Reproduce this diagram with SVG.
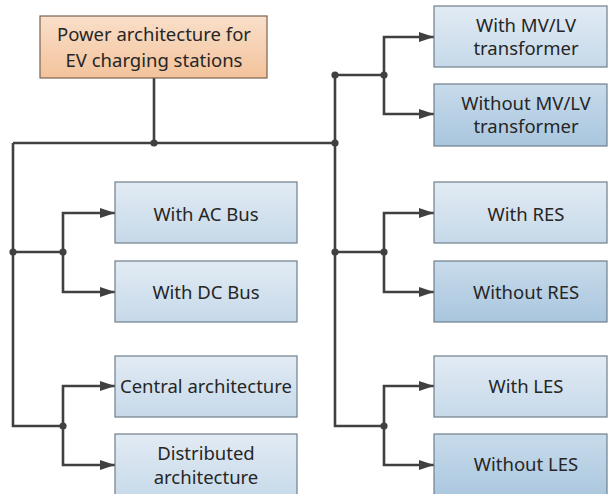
<svg xmlns="http://www.w3.org/2000/svg" width="608" height="494" viewBox="0 0 608 494">
<defs>
<linearGradient id="gOrange" x1="0" y1="0" x2="0" y2="1">
<stop offset="0" stop-color="#f9dfca"/>
<stop offset="1" stop-color="#f3c39b"/>
</linearGradient>
<linearGradient id="gLight" x1="0" y1="0" x2="0" y2="1">
<stop offset="0" stop-color="#e2ebf4"/>
<stop offset="1" stop-color="#c6d9e9"/>
</linearGradient>
<linearGradient id="gDark" x1="0" y1="0" x2="0" y2="1">
<stop offset="0" stop-color="#c8dbeb"/>
<stop offset="1" stop-color="#a9c6de"/>
</linearGradient>
<marker id="arr" markerUnits="userSpaceOnUse" markerWidth="16" markerHeight="12" refX="15" refY="6" orient="auto">
<path d="M0,1 L15,6 L0,11 Z" fill="#404040"/>
</marker>
<style>
.box{stroke:#6f7f8c;stroke-width:1.2}
.lt{fill:url(#gLight)}
.dk{fill:url(#gDark)}
.root{fill:url(#gOrange);stroke:#7a6350;stroke-width:1.2}
text{font-family:"Noto Sans","Open Sans","Liberation Sans",sans-serif;font-size:18.5px;fill:#262626;text-anchor:middle}
.ln{fill:none;stroke:#404040;stroke-width:2.6}
.ar{marker-end:url(#arr)}
.dot{fill:#404040}
</style>
</defs>

<g id="connectors">
<path class="ln" d="M154,78 V143"/>
<path class="ln" d="M13,143 H335"/>
<path class="ln" d="M13,143 V426 H63"/>
<path class="ln" d="M13,252 H63"/>
<path class="ln ar" d="M63,252 V213 H115"/>
<path class="ln ar" d="M63,252 V292 H115"/>
<path class="ln ar" d="M63,426 V386 H115"/>
<path class="ln ar" d="M63,426 V465 H115"/>
<path class="ln" d="M335,75 V426 H384"/>
<path class="ln" d="M335,75 H384"/>
<path class="ln" d="M335,252 H384"/>
<path class="ln ar" d="M384,75 V37 H434"/>
<path class="ln ar" d="M384,75 V114 H434"/>
<path class="ln ar" d="M384,252 V213 H434"/>
<path class="ln ar" d="M384,252 V292 H434"/>
<path class="ln ar" d="M384,426 V386 H434"/>
<path class="ln ar" d="M384,426 V465 H434"/>
<circle class="dot" cx="154" cy="143" r="3.6"/>
<circle class="dot" cx="335" cy="143" r="3.6"/>
<circle class="dot" cx="13" cy="252" r="3.6"/>
<circle class="dot" cx="63" cy="252" r="3.6"/>
<circle class="dot" cx="63" cy="426" r="3.6"/>
<circle class="dot" cx="335" cy="75" r="3.6"/>
<circle class="dot" cx="384" cy="75" r="3.6"/>
<circle class="dot" cx="335" cy="252" r="3.6"/>
<circle class="dot" cx="384" cy="252" r="3.6"/>
<circle class="dot" cx="384" cy="426" r="3.6"/>
</g>

<g id="root">
<rect class="root" x="40" y="16" width="227" height="62"/>
<text x="154" y="40.5">Power architecture for</text>
<text x="154" y="66.5">EV charging stations</text>
</g>

<g id="with-ac-bus">
<rect class="box lt" x="115" y="182" width="182" height="61"/>
<text x="206" y="220.5">With AC Bus</text>
</g>
<g id="with-dc-bus">
<rect class="box lt" x="115" y="261" width="182" height="61"/>
<text x="206" y="299">With DC Bus</text>
</g>
<g id="central">
<rect class="box lt" x="115" y="356" width="182" height="61"/>
<text x="206" y="393">Central architecture</text>
</g>
<g id="distributed">
<rect class="box lt" x="115" y="434" width="182" height="66"/>
<text x="206" y="460">Distributed</text>
<text x="206" y="484">architecture</text>
</g>

<g id="with-mvlv">
<rect class="box lt" x="434" y="6" width="173" height="61"/>
<text x="526" y="32">With MV/LV</text>
<text x="526" y="55">transformer</text>
</g>
<g id="without-mvlv">
<rect class="box dk" x="434" y="84" width="173" height="62"/>
<text x="526" y="110">Without MV/LV</text>
<text x="526" y="133">transformer</text>
</g>
<g id="with-res">
<rect class="box lt" x="434" y="182" width="173" height="61"/>
<text x="526" y="220.5">With RES</text>
</g>
<g id="without-res">
<rect class="box dk" x="434" y="261" width="173" height="61"/>
<text x="526" y="299">Without RES</text>
</g>
<g id="with-les">
<rect class="box lt" x="434" y="356" width="173" height="61"/>
<text x="526" y="393">With LES</text>
</g>
<g id="without-les">
<rect class="box dk" x="434" y="434" width="173" height="66"/>
<text x="526" y="471">Without LES</text>
</g>
</svg>
